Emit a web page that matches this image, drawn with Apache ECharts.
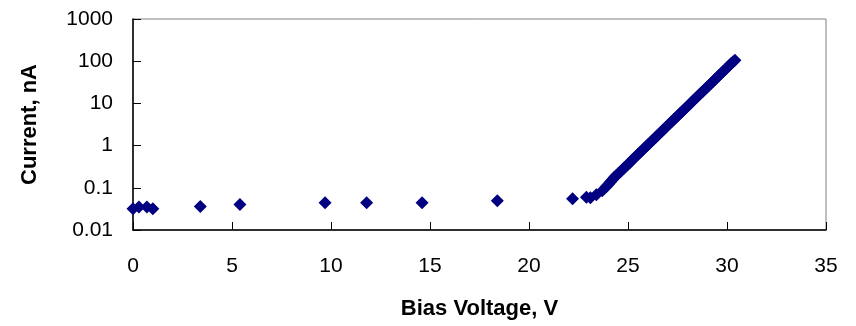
<!DOCTYPE html>
<html>
<head>
<meta charset="utf-8">
<script src="https://cdn.jsdelivr.net/npm/echarts@6/dist/echarts.min.js"></script>
<style>
  html, body { margin: 0; padding: 0; background: #ffffff; }
  #chart { width: 856px; height: 326px; }
</style>
</head>
<body>
<div id="chart"></div>
<script>
// Bias voltage (V) for each measurement
const biasVoltage = [
  0.0, 0.3, 0.7, 1.0, 3.4, 5.4, 9.7, 11.8, 14.6, 18.4, 22.2,
  22.9, 23.1, 23.4, 23.7, 23.9, 24.0, 24.1,
  24.2, 24.3, 24.4, 24.5, 24.6, 24.7, 24.8, 24.9, 25.0,
  25.1, 25.2, 25.3, 25.4, 25.5, 25.6, 25.7, 25.8, 25.9, 26.0,
  26.1, 26.2, 26.3, 26.4, 26.5, 26.6, 26.7, 26.8, 26.9, 27.0,
  27.1, 27.2, 27.3, 27.4, 27.5, 27.6, 27.7, 27.8, 27.9, 28.0,
  28.1, 28.2, 28.3, 28.4, 28.5, 28.6, 28.7, 28.8, 28.9, 29.0,
  29.1, 29.2, 29.3, 29.4, 29.5, 29.6, 29.7, 29.8, 29.9, 30.0,
  30.1, 30.2, 30.3, 30.4
];

// Measured current (nA) at each bias voltage
const currentNA = [
  0.032, 0.035, 0.035, 0.032, 0.036, 0.040, 0.044, 0.044, 0.044, 0.049, 0.055,
  0.060, 0.058, 0.068, 0.085, 0.106, 0.12, 0.135,
  0.153, 0.175, 0.193, 0.215, 0.238, 0.265, 0.294, 0.326, 0.363,
  0.40, 0.448, 0.50, 0.553, 0.615, 0.683, 0.76, 0.842, 0.935, 1.04,
  1.15, 1.28, 1.42, 1.58, 1.75, 1.95, 2.17, 2.41, 2.68, 2.98,
  3.3, 3.67, 4.08, 4.53, 5.05, 5.6, 6.2, 6.9, 7.7, 8.5,
  9.45, 10.5, 11.7, 13, 14.4, 16, 17.8, 19.8, 22, 24.4,
  27, 30, 33.5, 37, 41.5, 46, 51, 57, 63, 70,
  78, 87, 96, 105
];

// Tick labels on the logarithmic current axis
const currentTickLabels = ['0.01', '0.1', '1', '10', '100', '1000'];

const points = biasVoltage.map((v, i) => [v, currentNA[i]]);

const fontFamily = 'Liberation Sans, Arial, sans-serif';

const chart = echarts.init(document.getElementById('chart'), null, { renderer: 'canvas' });

chart.setOption({
  animation: false,
  backgroundColor: '#ffffff',
  grid: {
    left: 133, right: 30, top: 19, bottom: 96,
    show: true,
    borderColor: '#808080',
    borderWidth: 1,
    backgroundColor: 'transparent'
  },
  xAxis: {
    type: 'value',
    min: 0, max: 35, interval: 5,
    name: 'Bias Voltage, V',
    nameLocation: 'middle',
    nameGap: 68,
    nameTextStyle: { fontFamily, fontSize: 22, fontWeight: 'bold', color: '#000' },
    axisLine: { show: true, onZero: false, lineStyle: { color: '#000', width: 1.5 } },
    axisTick: { show: true, inside: true, length: 8, lineStyle: { color: '#000', width: 1 } },
    axisLabel: { fontFamily, fontSize: 21, color: '#000', margin: 26 },
    splitLine: { show: false }
  },
  yAxis: {
    type: 'log',
    logBase: 10,
    min: 0.01, max: 1000,
    name: 'Current, nA',
    nameLocation: 'middle',
    nameGap: 92,
    nameRotate: 90,
    nameTextStyle: { fontFamily, fontSize: 22, fontWeight: 'bold', color: '#000' },
    axisLine: { show: true, lineStyle: { color: '#000', width: 1.5 } },
    axisTick: { show: true, inside: true, length: 8, lineStyle: { color: '#000', width: 1 } },
    axisLabel: {
      fontFamily, fontSize: 21, color: '#000', margin: 20,
      formatter: (v) => {
        const idx = Math.round(Math.log10(v)) + 2;
        return currentTickLabels[idx] !== undefined ? currentTickLabels[idx] : '';
      }
    },
    splitLine: { show: false }
  },
  series: [{
    type: 'scatter',
    data: points,
    symbol: 'diamond',
    symbolSize: 13,
    itemStyle: { color: '#000080', opacity: 1 }
  }]
});
</script>
</body>
</html>
